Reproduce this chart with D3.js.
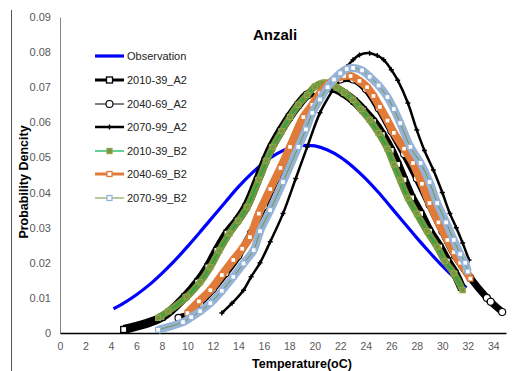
<!DOCTYPE html>
<meta charset="utf-8">
<head>
<style>
body { margin: 0; background: #fff; }
text { font-family: "Liberation Sans", Arial, sans-serif; }
</style>
</head>
<script src="https://d3js.org/d3.v7.min.js"></script>
<div id="chart"></div>
<script>

// tick labels
var xTicks = [0,2,4,6,8,10,12,14,16,18,20,22,24,26,28,30,32,34];
var yTicks = [0,0.01,0.02,0.03,0.04,0.05,0.06,0.07,0.08,0.09];

// series: [temperature, density]
var obs = [[4.2,.0069],[5,.0085],[6,.0109],[7,.0137],[8,.0170],[9,.0206],[10,.0246],[11,.0288],[12,.0331],
  [13,.0374],[14,.0416],[15,.0453],[16,.0485],[17,.0510],[18,.0527],[19,.0534],[20,.0533],[21,.0521],
  [22,.0501],[23,.0473],[24,.0439],[25,.0400],[26,.0357],[27,.0314],[28,.0271],[29,.0230],[30,.0191],
  [31,.0156],[31.9,.0129]];

var a2_2010 = [[5,.001],[8,.0045],[9.8,.0103],[10.8,.0145],[11.6,.0188],[12.3,.0235],[13.1,.0284],[13.9,.032],
  [14.6,.0359],[15.5,.0436],[16.1,.049],[16.6,.053],[17.3,.0575],[18,.0615],[18.7,.065],[19.4,.0678],[20.1,.069],
  [20.9,.0698],[21.6,.0696],[22.3,.0682],[23.1,.066],[23.8,.0635],[24.6,.0602],[25.3,.0565],[26,.052],[26.5,.048],
  [27,.0436],[27.6,.0385],[28.3,.034],[29,.029],[29.8,.0245],[30.4,.0205],[31,.017],[31.5,.013]];

var a2_2040 = [[9.3,.0043],[10.2,.0055],[11,.0085],[12,.0125],[13,.017],[14,.022],[15,.0285],[16,.036],
  [17,.044],[18,.051],[19,.059],[20,.065],[21,.0698],[22,.0722],[23,.0722],[24,.0695],[25,.064],[26,.0575],
  [27,.051],[28,.044],[29,.0365],[30,.029],[31,.022],[32.2,.0157],[33.5,.010],[33.8,.0089],[34.7,.006]];

var a2_2070 = [[12.7,.0057],[13.5,.0085],[14.4,.0122],[15,.016],[15.7,.020],[16.5,.026],[17.5,.034],[18.5,.044],
  [19.4,.053],[20.4,.0627],[21.4,.0692],[22,.073],[22.5,.0758],[23,.0778],[23.5,.0792],[24.3,.0797],[24.9,.079],
  [25.4,.0778],[26,.075],[26.5,.072],[27.3,.0655],[28,.0578],[28.6,.052],[29.3,.0464],[30,.040],[30.6,.034],
  [31.1,.030],[31.6,.0256],[32.1,.0208]];

var b2_2010 = [[7.7,.0043],[8.5,.0062],[9.95,.0103],[11,.0145],[11.8,.0188],[12.5,.0235],[13.3,.0284],[14,.032],
  [14.7,.0359],[15.6,.0436],[16.2,.049],[16.7,.053],[17.4,.0575],[18.05,.0615],[18.7,.065],[19.4,.0678],[20,.0702],
  [20.6,.0712],[21.2,.071],[21.7,.070],[22.3,.0685],[23,.0664],[23.6,.0638],[24.3,.0607],[25,.057],[25.7,.0525],
  [26.2,.048],[26.7,.0436],[27.3,.0385],[28,.034],[28.8,.029],[29.6,.0245],[30.2,.0205],[30.9,.017],[31.6,.0122]];

var b2_2040 = [[10,.0057],[10.9,.009],[11.8,.0122],[12.7,.0165],[13.6,.0208],[14.3,.024],[14.9,.0273],[15.6,.034],
  [16.5,.041],[17.3,.047],[18.05,.053],[19.1,.0615],[19.8,.065],[20.4,.0683],[21,.0708],[21.7,.0726],[22.3,.0732],
  [22.8,.0732],[23.5,.0718],[24.1,.070],[24.6,.0675],[25.1,.0644],[25.7,.0605],[26.2,.057],[27,.0525],[27.7,.0484],
  [28.4,.0425],[29,.037],[29.7,.0315],[30.4,.0265],[30.9,.023],[31.4,.020],[31.8,.018],[32.2,.0155]];

var b2_2070 = [[7.7,.0009],[9.65,.0031],[10.3,.0045],[11,.0062],[11.8,.0085],[12.7,.012],[13.6,.016],[14.4,.0198],
  [15.2,.0236],[15.7,.029],[16.5,.035],[17.5,.043],[18.7,.053],[19.3,.058],[19.8,.0627],[20.4,.0665],[21,.070],
  [21.5,.0722],[22,.074],[22.5,.0752],[23,.0755],[23.7,.0748],[24.3,.073],[25,.0705],[25.7,.0672],[26.2,.0638],
  [26.7,.0598],[27.5,.053],[28.3,.0484],[29,.043],[29.6,.037],[30.3,.0315],[30.9,.0265],[31.4,.0225],[31.8,.020],[32,.0175]];

// drawing styles per series (order = draw order, like excel)
var series = [
  {name: "Observation", data: obs, line: "#0000ff", lw: 3.2, marker: null},
  {name: "2010-39_A2", data: a2_2010, line: "#000", lw: 3, band: "#000", bw: 9,
   marker: "square", mfill: "#fff", mstroke: "#000", ms: 6},
  {name: "2040-69_A2", data: a2_2040, line: "#000", lw: 1, band: "#000", bw: 7,
   marker: "circle", mfill: "#fff", mstroke: "#000", ms: 7},
  {name: "2070-99_A2", data: a2_2070, line: "#000", lw: 2.5, marker: "plus", mstroke: "#000", ms: 5},
  {name: "2010-39_B2", data: b2_2010, line: "#00b050", lw: 1.2, band: "#77933c", bw: 7,
   marker: "square", mfill: "#77933c", mstroke: "#8aa64a", ms: 5},
  {name: "2040-69_B2", data: b2_2040, line: "#e07b39", lw: 3, band: "#e07b39", bw: 8,
   marker: "square", mfill: "#fff", mstroke: "#e07b39", ms: 5},
  {name: "2070-99_B2", data: b2_2070, line: "#77933c", lw: 1, band: "#95b3d7", bw: 8,
   marker: "square", mfill: "#fff", mstroke: "#95b3d7", ms: 5}
];

var width = 523, height = 371;

var svg = d3.select("#chart").append("svg")
  .attr("width", width).attr("height", height);

var x = d3.scaleLinear().domain([0, 35]).range([60, 506]);
var y = d3.scaleLinear().domain([0, 0.09]).range([333, 17]);

// left frame edge
svg.append("line").attr("x1", 11.5).attr("x2", 11.5).attr("y1", 10).attr("y2", 371)
  .attr("stroke", "#555").attr("stroke-width", 1);

// y axis
var yAxis = svg.append("g").attr("transform", "translate(60,0)")
  .call(d3.axisLeft(y).tickValues(yTicks).tickSize(0).tickPadding(9)
    .tickFormat(function(d) { return d === 0 ? "0" : d3.format(".2f")(d); }));
yAxis.select(".domain").attr("stroke", "#868686");
yAxis.selectAll("text").style("font-size", "11px").attr("fill", "#595959");

// x axis
var xAxis = svg.append("g").attr("transform", "translate(0,333)")
  .call(d3.axisBottom(x).tickValues(xTicks).tickSize(0).tickPadding(10));
xAxis.select(".domain").attr("stroke", "#000").attr("stroke-width", 1.5);
xAxis.selectAll("text").style("font-size", "10.5px").attr("fill", "#595959");

// titles
svg.append("text").attr("x", 275).attr("y", 40).attr("text-anchor", "middle")
  .style("font-size", "15px").style("font-weight", "bold").text("Anzali");
svg.append("text").attr("x", 302).attr("y", 368).attr("text-anchor", "middle")
  .style("font-size", "12.5px").style("font-weight", "bold").text("Temperature(oC)");
svg.append("text").attr("transform", "rotate(-90)").attr("x", -182).attr("y", 28)
  .attr("text-anchor", "middle").style("font-size", "12.5px").style("font-weight", "bold")
  .text("Probability Dencity");

var line = d3.line().x(function(d) { return x(d[0]); }).y(function(d) { return y(d[1]); })
  .curve(d3.curveCatmullRom);

function drawMarker(g, s, px, py) {
  var h = s.ms / 2;
  if (s.marker === "square") {
    g.append("rect").attr("x", px - h).attr("y", py - h).attr("width", s.ms).attr("height", s.ms)
      .attr("fill", s.mfill).attr("stroke", s.mstroke).attr("stroke-width", 1.3);
  } else if (s.marker === "circle") {
    g.append("circle").attr("cx", px).attr("cy", py).attr("r", h)
      .attr("fill", s.mfill).attr("stroke", s.mstroke).attr("stroke-width", 1.1);
  } else if (s.marker === "plus") {
    g.append("path").attr("d", "M" + (px - h) + "," + py + "h" + s.ms + "M" + px + "," + (py - h) + "v" + s.ms)
      .attr("stroke", s.mstroke).attr("stroke-width", 1.5);
  }
}

var plot = svg.append("g");
series.forEach(function(s) {
  var g = plot.append("g");
  if (s.band) {
    g.append("path").datum(s.data).attr("d", line).attr("fill", "none")
      .attr("stroke", s.band).attr("stroke-width", s.bw).attr("stroke-linejoin", "round");
  }
  g.append("path").datum(s.data).attr("d", line).attr("fill", "none")
    .attr("stroke", s.line).attr("stroke-width", s.lw);
  if (s.marker) {
    s.data.forEach(function(d) { drawMarker(g, s, x(d[0]), y(d[1])); });
  }
});

// legend
var legY = [56, 80, 104, 127, 151, 174, 198];
var leg = svg.append("g");
series.forEach(function(s, i) {
  var g = leg.append("g");
  g.append("line").attr("x1", 95).attr("x2", 124).attr("y1", legY[i]).attr("y2", legY[i])
    .attr("stroke", s.line).attr("stroke-width", s.lw);
  if (s.marker) drawMarker(g, s, 109.5, legY[i]);
  g.append("text").attr("x", 127).attr("y", legY[i] + 4).style("font-size", "11px")
    .attr("fill", "#222").text(s.name);
});

</script>
